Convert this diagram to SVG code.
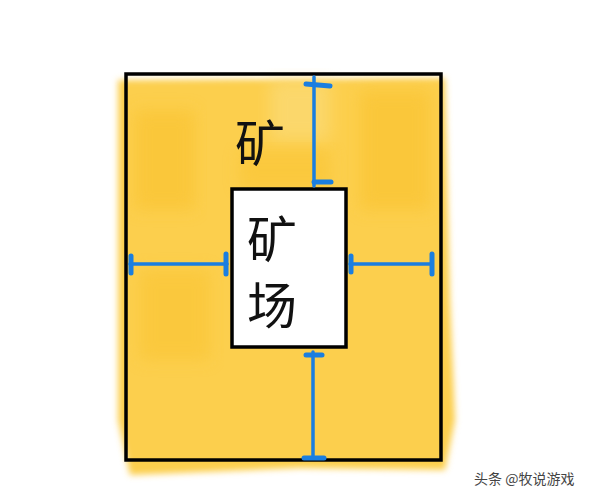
<svg xmlns="http://www.w3.org/2000/svg" width="598" height="500" viewBox="0 0 598 500">
<defs>
<filter id="blur" x="-10%" y="-10%" width="120%" height="120%"><feGaussianBlur stdDeviation="3"/></filter>
<filter id="blur2" x="-20%" y="-20%" width="140%" height="140%"><feGaussianBlur stdDeviation="8"/></filter>
</defs>
<style>
.frame{fill:none;stroke:#000;stroke-width:3.5}
.dim{stroke:#1a7ee0;stroke-width:3.5;stroke-linecap:round;fill:none}
.tick{stroke:#1a7ee0;stroke-width:5;stroke-linecap:round}
.lbl{font-family:"Noto Sans CJK SC","Noto Sans",sans-serif;fill:#111}
.wm{font-family:"Noto Sans CJK SC","Noto Sans",sans-serif;font-size:14px;fill:#444}
</style>
<rect width="598" height="500" fill="#fff"/>
<g id="paint">
<path d="M118 80 L445 78 L450 300 L455 420 L445 470 L300 468 L130 475 L118 420 Z" fill="#FCCF4E" filter="url(#blur)"/>
<rect x="135" y="110" width="60" height="100" fill="#F9C22E" opacity="0.6" filter="url(#blur2)"/>
<rect x="360" y="90" width="70" height="120" fill="#F9C22E" opacity="0.6" filter="url(#blur2)"/>
<rect x="140" y="270" width="70" height="90" fill="#F9C22E" opacity="0.5" filter="url(#blur2)"/>
<rect x="270" y="80" width="60" height="60" fill="#FBE08A" opacity="0.5" filter="url(#blur2)"/>
<rect x="240" y="150" width="90" height="40" fill="#F9C22E" opacity="0.5" filter="url(#blur2)"/>
</g>
<g id="outer"><rect class="frame" x="126" y="74" width="315" height="386"/></g>
<g id="inner"><rect x="232" y="189" width="114" height="158" fill="#fff" stroke="#000" stroke-width="3.5"/></g>
<g id="labels">
<text class="lbl" x="260" y="162" font-size="50" text-anchor="middle">矿</text>
<text class="lbl" x="272" y="258" font-size="50" text-anchor="middle">矿</text>
<text class="lbl" x="272" y="324" font-size="50" text-anchor="middle">场</text>
</g>
<g id="connectors">
<line class="dim" x1="314" y1="77" x2="314" y2="186"/>
<line class="tick" x1="306" y1="84" x2="330" y2="86"/>
<line class="tick" x1="314" y1="182" x2="331" y2="182"/>
<line class="dim" x1="313" y1="352" x2="313" y2="458"/>
<line class="tick" x1="306" y1="355" x2="322" y2="355"/>
<line class="tick" x1="304" y1="458" x2="324" y2="458"/>
<line class="dim" x1="130" y1="264" x2="227" y2="264"/>
<line class="tick" x1="131" y1="256" x2="131" y2="273"/>
<line class="tick" x1="226" y1="254" x2="226" y2="274"/>
<line class="dim" x1="350" y1="264" x2="432" y2="264"/>
<line class="tick" x1="351" y1="256" x2="351" y2="272"/>
<line class="tick" x1="432" y1="254" x2="432" y2="274"/>
</g>
<text class="wm" x="474" y="484">头条 @牧说游戏</text>
</svg>
